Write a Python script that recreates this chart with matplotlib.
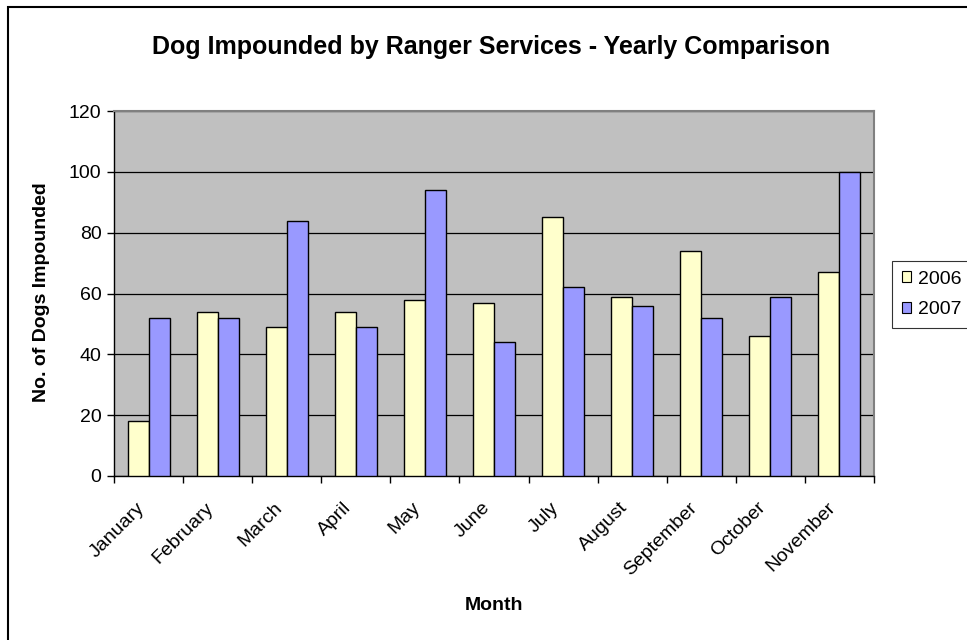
import matplotlib
matplotlib.use("Agg")
import matplotlib.pyplot as plt
from matplotlib.patches import Rectangle, Patch
import numpy as np

plt.rcParams['font.family'] = ['Liberation Sans', 'DejaVu Sans']

months = ["January", "February", "March", "April", "May", "June", "July",
          "August", "September", "October", "November"]
dogs_2006 = [18, 54, 49, 54, 58, 57, 85, 59, 74, 46, 67]
dogs_2007 = [52, 52, 84, 49, 94, 44, 62, 56, 52, 59, 100]
y_ticks = [0, 20, 40, 60, 80, 100, 120]

fig = plt.figure(figsize=(9.67, 6.4), dpi=100)
fig.patch.set_facecolor("white")

# outer chart frame (runs off the right and bottom edges)
fig.patches.append(Rectangle((8 / 967, -0.1), 1.2, 1.1 - 7 / 640,
                             transform=fig.transFigure, fill=False,
                             edgecolor="black", linewidth=1.5))

ax = fig.add_axes([114 / 967, 164 / 640, 760 / 967, 365 / 640])
ax.set_facecolor("#C0C0C0")

x = np.arange(len(months)) + 0.5
w = 0.304
ax.bar(x - w / 2, dogs_2006, width=w, color="#FFFFCC", edgecolor="black",
       linewidth=1.0, label="2006", zorder=3)
ax.bar(x + w / 2, dogs_2007, width=w, color="#9999FF", edgecolor="black",
       linewidth=1.0, label="2007", zorder=3)

ax.set_xlim(0, len(months))
ax.set_ylim(0, 120)
ax.set_yticks(y_ticks)
ax.set_yticklabels([str(v) for v in y_ticks], fontsize=14)
ax.yaxis.grid(True, color="black", linewidth=0.9, zorder=1)
ax.set_axisbelow(True)

# category boundaries carry the tick marks; labels sit on invisible minor ticks
ax.set_xticks(np.arange(len(months) + 1))
ax.set_xticklabels([])
ax.set_xticks(x - 0.1, minor=True)
ax.set_xticklabels(months, minor=True, rotation=45, ha="right", va="center",
                   rotation_mode="anchor", fontsize=14)
ax.tick_params(axis="x", which="minor", length=0, pad=21)
ax.tick_params(axis="x", which="major", length=5, width=1, direction="out")
ax.tick_params(axis="y", length=5, width=1, direction="out", pad=4)

for side in ["top", "right"]:
    ax.spines[side].set_color("#808080")
    ax.spines[side].set_linewidth(1.5)
for side in ["left", "bottom"]:
    ax.spines[side].set_color("black")
    ax.spines[side].set_linewidth(1.0)

fig.text(494 / 967, 1 - 605 / 640, "Month", ha="center", va="center",
         fontsize=14, fontweight="bold")
fig.text(42 / 967, 1 - 292 / 640, "No. of Dogs Impounded", ha="center",
         va="center", rotation=90, fontsize=14, fontweight="bold")

fig.text(491 / 967, 1 - 47 / 640,
         "Dog Impounded by Ranger Services - Yearly Comparison",
         ha="center", va="center", fontsize=18, fontweight="bold")

handles = [Patch(facecolor="#FFFFCC", edgecolor="black", linewidth=0.8),
           Patch(facecolor="#9999FF", edgecolor="black", linewidth=0.8)]
leg = fig.legend(handles, ["2006", "2007"], loc="upper left",
                 bbox_to_anchor=(892 / 967, 1 - 261 / 640),
                 frameon=True, fontsize=14, handlelength=0.5,
                 handleheight=0.5, handletextpad=0.35, borderpad=0.5,
                 labelspacing=0.7, fancybox=False, borderaxespad=0)
leg.get_frame().set_edgecolor("black")
leg.get_frame().set_linewidth(0.8)

fig.savefig("out.png", dpi=100, facecolor="white")
